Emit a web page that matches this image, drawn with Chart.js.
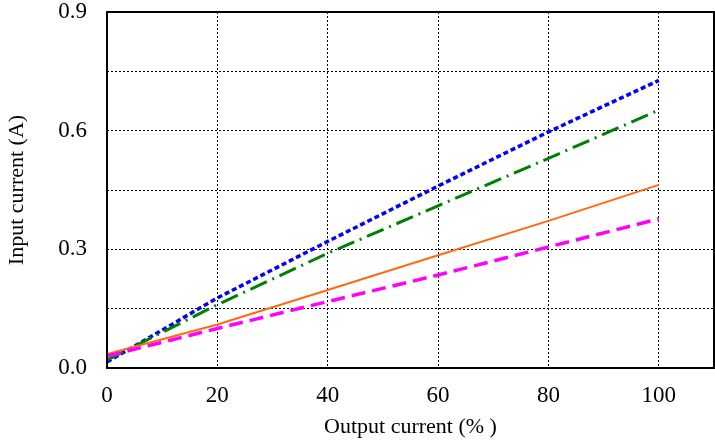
<!DOCTYPE html>
<html><head><meta charset="utf-8">
<script src="https://cdn.jsdelivr.net/npm/chart.js@4/dist/chart.umd.min.js"></script>
<style>html,body{margin:0;padding:0;background:#fff}#w{width:715px;height:444px}</style>
</head><body><div id="w"><canvas id="c"></canvas></div>
<script>
const xValues = [0, 20, 40, 60, 80, 100];
const blueDotted = [0.015, 0.177, 0.32, 0.46, 0.597, 0.727];
const greenDashDot = [0.02, 0.16, 0.29, 0.41, 0.53, 0.652];
const orangeSolid = [0.035, 0.11, 0.197, 0.285, 0.372, 0.463];
const magentaDashed = [0.03, 0.10, 0.168, 0.235, 0.306, 0.377];
const yTickLabels = {0: '0.0', 3: '0.3', 6: '0.6', 9: '0.9'};
const xTickLabels = [0, 20, 40, 60, 80, 100];

const pts = a => a.map((v, i) => ({x: xValues[i], y: v}));
const tickFont = {family: 'Liberation Serif', size: 23};
const titleFont = {family: 'Liberation Serif', size: 22};

const frame = {
  id: 'frame',
  afterDraw(chart) {
    const {ctx, chartArea: a} = chart;
    ctx.save();
    ctx.strokeStyle = '#000';
    ctx.lineWidth = 2;
    ctx.strokeRect(a.left, a.top, a.right - a.left, a.bottom - a.top);
    ctx.restore();
  }
};

new Chart(document.getElementById('c'), {
  type: 'line',
  data: {
    datasets: [
      {data: pts(magentaDashed), borderColor: '#ff00ff', borderWidth: 3.5, borderDash: [14, 7]},
      {data: pts(orangeSolid), borderColor: '#ff6a10', borderWidth: 2},
      {data: pts(greenDashDot), borderColor: '#008000', borderWidth: 3, borderDash: [18, 6, 2, 6]},
      {data: pts(blueDotted), borderColor: '#0000ff', borderWidth: 3.5, borderDash: [5, 3]}
    ]
  },
  options: {
    animation: false,
    responsive: true,
    maintainAspectRatio: false,
    layout: {padding: {top: 12, right: 1, left: 0, bottom: 0}},
    elements: {point: {radius: 0}, line: {tension: 0, fill: false}},
    plugins: {legend: {display: false}, tooltip: {enabled: false}},
    scales: {
      x: {
        type: 'linear', min: 0, max: 110,
        afterFit(s) { s.height = 76; s.paddingLeft = 0; s.paddingRight = 0; },
        ticks: {stepSize: 20, includeBounds: false, autoSkip: false, color: '#000', font: tickFont, padding: 14, maxRotation: 0,
          callback: v => xTickLabels.includes(v) ? String(v) : ''},
        grid: {color: '#000', lineWidth: 1, borderDash: [2, 2], drawTicks: false},
        border: {display: false, dash: [2, 2]},
        title: {display: true, text: 'Output current (% )', color: '#000', font: titleFont, padding: {top: 7}}
      },
      y: {
        min: 0, max: 0.9,
        afterFit(s) { s.width = 107; s.paddingTop = 0; s.paddingBottom = 0; },
        ticks: {stepSize: 0.15, autoSkip: false, color: '#000', font: tickFont, padding: 20,
          callback: v => { const k = Math.round(v / 0.1); return (Math.abs(v - k * 0.1) < 1e-6 && yTickLabels[k]) ? yTickLabels[k] : ''; }},
        grid: {color: '#000', lineWidth: 1, drawTicks: false},
        border: {display: false, dash: [2, 2]},
        title: {display: true, text: 'Input current (A)', color: '#000', font: titleFont, padding: {bottom: 4}}
      }
    }
  },
  plugins: [frame]
});
</script></body></html>
